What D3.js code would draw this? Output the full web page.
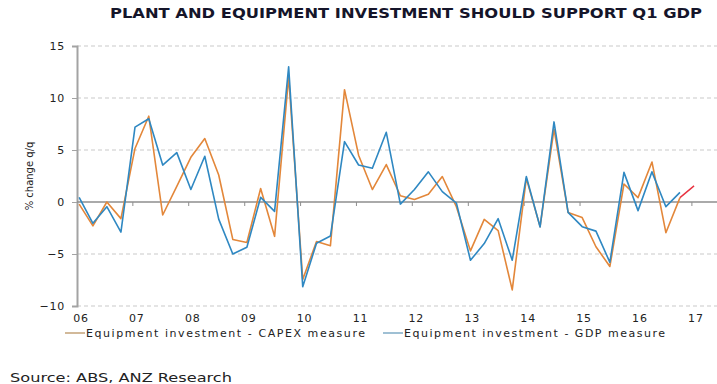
<!DOCTYPE html>
<html>
<head>
<meta charset="utf-8">
<script src="https://cdn.jsdelivr.net/npm/d3@7"></script>
<style>
  body { margin: 0; background: #fff; }
  svg { display: block; font-family: 'DejaVu Sans', Verdana, sans-serif; }
</style>
</head>
<body>
<svg id="chart" width="717" height="384"></svg>
<script>
// year labels on the x axis
const years = ['06', '07', '08', '09', '10', '11', '12', '13', '14', '15', '16', '17'];
const yTicks = [-10, -5, 0, 5, 10, 15];

// quarterly % change q/q, Q1 2006 .. Q4 2016
const capex = [
  -0.2, -2.3, 0.0, -1.6, 5.15, 8.25, -1.25, 1.5, 4.3, 6.1, 2.6, -3.6,
  -3.9, 1.3, -3.3, 12.05, -7.45, -3.8, -4.2, 10.8, 4.5, 1.2, 3.6, 0.6,
  0.25, 0.75, 2.45, -0.45, -4.7, -1.67, -2.75, -8.45, 2.27, -2.37, 7.0, -1.0,
  -1.5, -4.3, -6.2, 1.73, 0.42, 3.85, -2.95, 0.42,
];
const gdp = [
  0.45, -2.05, -0.45, -2.9, 7.2, 8.0, 3.55, 4.75, 1.2, 4.4, -1.65, -5.0,
  -4.35, 0.45, -0.9, 13.0, -8.15, -3.97, -3.27, 5.8, 3.56, 3.24, 6.7, -0.2,
  1.2, 2.9, 1.0, -0.1, -5.6, -4.0, -1.6, -5.6, 2.45, -2.4, 7.7, -1.0,
  -2.37, -2.8, -5.8, 2.85, -0.83, 2.9, -0.45, 0.93,
];
// CAPEX based estimate for Q1 2017
const capexQ1 = 1.55;

const seriesNames = ['Equipment investment - CAPEX measure', 'Equipment investment - GDP measure'];
const colors = { capex: '#e3873a', gdp: '#2f88c2', est: '#e8313f' };
const swatchColors = ['#d2b999', '#9fc0d4'];

const svg = d3.select('#chart');

// quarter dates, plotted mid January / April / July / October
const qDate = (i) => d3.timeMonth.offset(new Date(2006, 0, 15), 3 * i);

const x = d3.scaleTime()
  .domain([new Date(2006, 0, 1), new Date(2017, 5, 14)])
  .range([77, 717]);
const y = d3.scaleLinear().domain([-10, 15]).range([306, 46]);

// title
svg.append('text')
  .attr('x', 110).attr('y', 18)
  .attr('font-size', 14).attr('font-weight', 'bold')
  .attr('textLength', 592).attr('lengthAdjust', 'spacingAndGlyphs')
  .attr('fill', '#15152a')
  .text('PLANT AND EQUIPMENT INVESTMENT SHOULD SUPPORT Q1 GDP');

// gridlines
svg.append('g')
  .selectAll('line')
  .data(yTicks.filter((d) => d !== 0))
  .enter()
  .append('line')
  .attr('x1', 77).attr('x2', 717)
  .attr('y1', (d) => y(d)).attr('y2', (d) => y(d))
  .attr('stroke', '#c9c9c9')
  .attr('stroke-dasharray', '4,3');

// y axis
const yAxis = svg.append('g')
  .attr('transform', 'translate(77,0)')
  .call(d3.axisLeft(y).tickValues(yTicks).tickSize(5).tickPadding(7));
yAxis.select('.domain').attr('stroke', '#a3a3a3').attr('stroke-width', 2);
yAxis.selectAll('.tick line').attr('stroke', '#a3a3a3');
yAxis.selectAll('.tick text')
  .attr('font-size', 11)
  .attr('letter-spacing', 0.8)
  .attr('font-family', "'DejaVu Sans', Verdana, sans-serif")
  .attr('fill', '#222');

svg.append('text')
  .attr('transform', 'translate(33,176) rotate(-90)')
  .attr('text-anchor', 'middle')
  .attr('font-size', 10)
  .attr('fill', '#222')
  .text('% change q/q');

// zero line with year ticks
const yearDates = years.map((d) => new Date(2000 + +d, 0, 1));
svg.append('line')
  .attr('x1', 77).attr('x2', 717)
  .attr('y1', y(0)).attr('y2', y(0))
  .attr('stroke', '#8e8e8e').attr('stroke-width', 1.5);
svg.append('g')
  .selectAll('line')
  .data(yearDates.slice(1))
  .enter()
  .append('line')
  .attr('x1', (d) => x(d)).attr('x2', (d) => x(d))
  .attr('y1', y(0)).attr('y2', y(0) + 4)
  .attr('stroke', '#8e8e8e');

// year labels
svg.append('g')
  .selectAll('text')
  .data(years)
  .enter()
  .append('text')
  .attr('x', (d, i) => x(yearDates[i]) + 4)
  .attr('y', 322)
  .attr('text-anchor', 'middle')
  .attr('font-size', 11)
  .attr('letter-spacing', 0.8)
  .attr('fill', '#222')
  .text((d) => d);

// lines
const line = d3.line()
  .x((d, i) => x(qDate(i)))
  .y((d) => y(d));

svg.append('path')
  .datum(capex)
  .attr('d', line)
  .attr('fill', 'none')
  .attr('stroke', colors.capex)
  .attr('stroke-width', 1.6)
  .attr('stroke-linejoin', 'round');

svg.append('path')
  .datum(gdp)
  .attr('d', line)
  .attr('fill', 'none')
  .attr('stroke', colors.gdp)
  .attr('stroke-width', 1.6)
  .attr('stroke-linejoin', 'round');

const last = capex.length - 1;
svg.append('line')
  .attr('x1', x(qDate(last))).attr('y1', y(capex[last]))
  .attr('x2', x(qDate(last + 1))).attr('y2', y(capexQ1))
  .attr('stroke', colors.est)
  .attr('stroke-width', 1.4);

// legend
const legendX = [65, 383];
const legendLen = [279, 261];
const legend = svg.append('g')
  .selectAll('g')
  .data(seriesNames)
  .enter()
  .append('g')
  .attr('transform', (d, i) => `translate(${legendX[i]},337)`);
legend.append('line')
  .attr('x1', 0).attr('x2', 20)
  .attr('y1', -4).attr('y2', -4)
  .attr('stroke', (d, i) => swatchColors[i])
  .attr('stroke-width', 2);
legend.append('text')
  .attr('x', 21)
  .attr('y', 0)
  .attr('font-size', 11)
  .attr('textLength', (d, i) => legendLen[i])
  .attr('lengthAdjust', 'spacing')
  .attr('fill', '#222')
  .text((d) => d);

// source
svg.append('text')
  .attr('x', 10).attr('y', 382)
  .attr('font-size', 13)
  .attr('textLength', 222).attr('lengthAdjust', 'spacingAndGlyphs')
  .attr('fill', '#222')
  .text('Source: ABS, ANZ Research');
</script>
</body>
</html>
